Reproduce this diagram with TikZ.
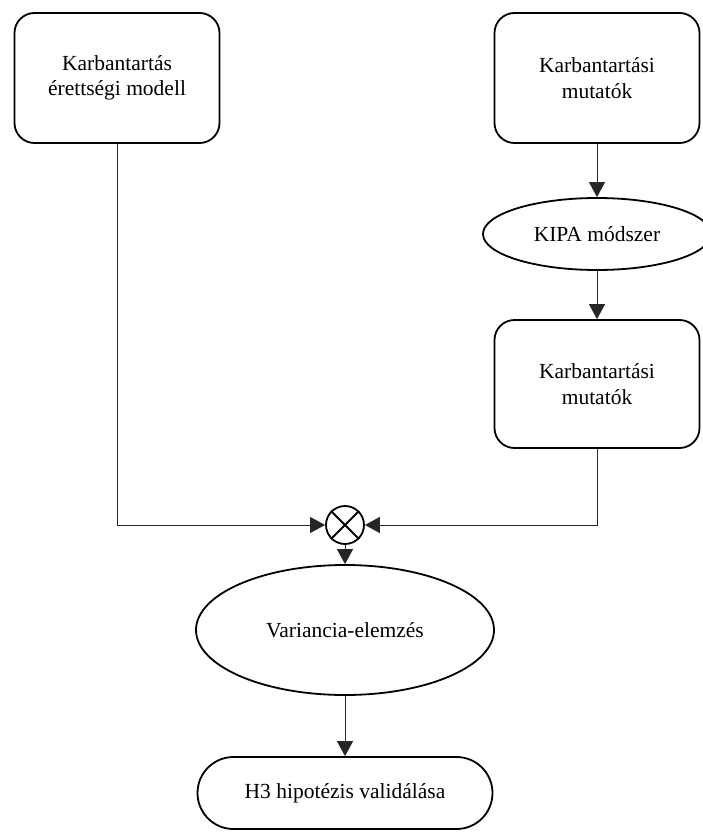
\documentclass[tikz,border=0pt]{standalone}
\usepackage{fontspec}
\setmainfont{Liberation Serif}
\usetikzlibrary{arrows.meta,positioning,shapes.geometric}

\begin{document}
\begin{tikzpicture}[x=1pt, y=-1pt, font=\fontsize{21.5}{25.5}\selectfont,
  blokk/.style={draw, line width=1.8pt, rounded corners=20pt, align=center,
    minimum width=205pt, minimum height=130pt, inner sep=0pt},
  ovalis/.style={draw, ellipse, line width=1.8pt, inner sep=0pt, align=center},
  nyil/.style={-{Triangle[length=15pt,width=16pt]}, line width=1pt, black!85},
  kereszt/.style={line width=1.8pt}]
\def\bx{117}   % left column
\def\jx{597}   % right column
\def\kx{345}   % middle column
\useasboundingbox (0,0) rectangle (702,832);

% ---------- upper row ----------
\node[blokk] (modell) at (\bx,78) {Karbantartás\\érettségi modell};
\node[blokk] (mutato) at (\jx,78) {Karbantartási\\mutatók};

% ---------- right column ----------
\node[ovalis, minimum width=228pt, minimum height=72pt] (kipa) at (\jx,234) {KIPA módszer};
\node[blokk, minimum height=128pt] (mutatok) at (\jx,384) {Karbantartási\\mutatók};

% ---------- join ----------
\node[draw, circle, line width=1.8pt, minimum size=38pt, inner sep=0pt] (kor) at (\kx,525) {};
\draw[kereszt] (kor.north east) -- (kor.south west) (kor.north west) -- (kor.south east);

% ---------- lower column ----------
\node[ovalis, minimum width=298pt, minimum height=130pt] (anova) at (\kx,630) {Variancia-elemzés};
\node[draw, line width=1.8pt, rounded corners=36pt, minimum width=295pt,
  minimum height=72pt, inner sep=0pt] (hipo) at (\kx,793) {H3 hipotézis validálása};

% ---------- connectors ----------
\draw[nyil] (mutato) -- (kipa);
\draw[nyil] (kipa) -- (mutatok);
\draw[nyil] (modell.south) |- (kor.west);
\draw[nyil] (mutatok.south) |- (kor.east);
\draw[nyil] (kor) -- (anova);
\draw[nyil] (anova) -- (hipo);

\end{tikzpicture}
\end{document}
